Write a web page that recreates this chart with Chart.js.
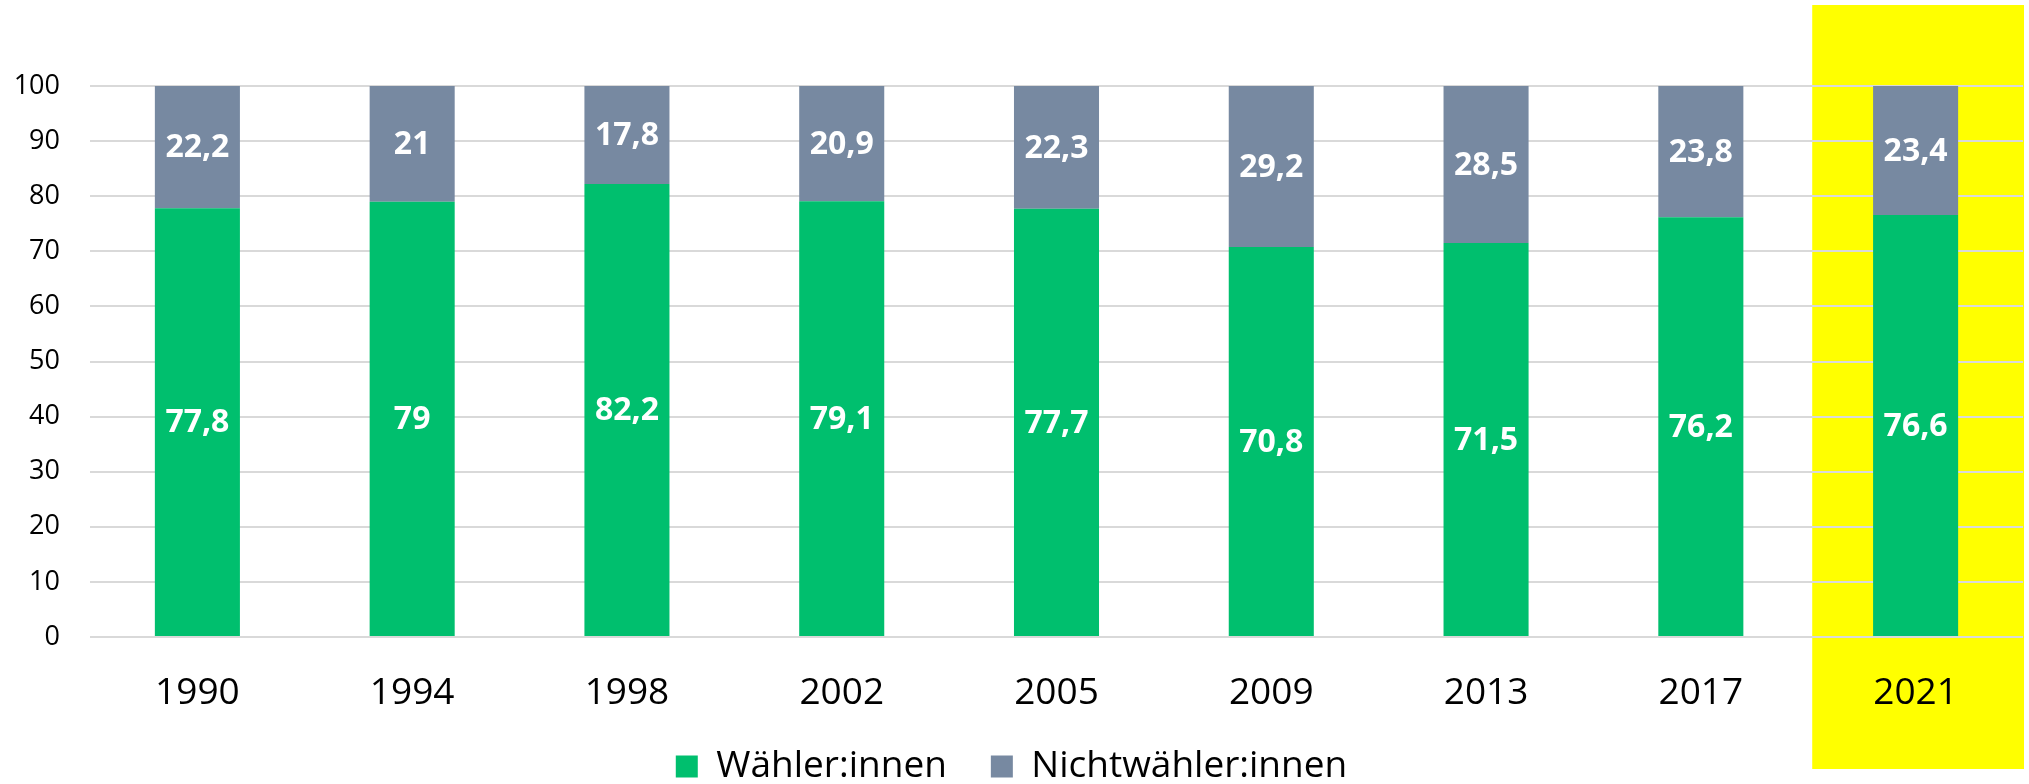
<!DOCTYPE html>
<html>
<head>
<meta charset="utf-8">
<script src="https://cdn.jsdelivr.net/npm/chart.js@4"></script>
<style>
  html, body { margin: 0; padding: 0; background: #fff; }
  #wrap { width: 2029px; height: 784px; }
</style>
</head>
<body>
<div id="wrap"><canvas id="wahl-chart"></canvas></div>
<script>
const years = ['1990', '1994', '1998', '2002', '2005', '2009', '2013', '2017', '2021'];
const waehler = [77.8, 79, 82.2, 79.1, 77.7, 70.8, 71.5, 76.2, 76.6];
const nichtwaehler = [22.2, 21, 17.8, 20.9, 22.3, 29.2, 28.5, 23.8, 23.4];
const highlightYear = '2021';

const fontFamily = '"Open Sans", sans-serif';

// yellow box behind the highlighted year
const highlightPlugin = {
  id: 'highlight',
  beforeDraw(chart) {
    const x = chart.scales.x;
    const idx = years.indexOf(highlightYear);
    const center = x.getPixelForValue(idx);
    const half = (x.width / years.length) / 2;
    const ctx = chart.ctx;
    ctx.save();
    ctx.fillStyle = '#ffff00';
    ctx.fillRect(center - half + 4, 5, half * 2 - 3, 764);
    ctx.restore();
  }
};

// white value labels in the middle of each segment
const valueLabels = {
  id: 'valueLabels',
  afterDatasetsDraw(chart) {
    const ctx = chart.ctx;
    ctx.save();
    ctx.fillStyle = '#fff';
    ctx.font = 'bold 32px ' + fontFamily;
    ctx.textAlign = 'center';
    ctx.textBaseline = 'middle';
    chart.data.datasets.forEach((ds, i) => {
      chart.getDatasetMeta(i).data.forEach((bar, j) => {
        let txt = String(ds.data[j]).replace('.', ',');
        ctx.fillText(txt, bar.x, (bar.y + bar.base) / 2 + 1);
      });
    });
    ctx.restore();
  }
};

const data = {
  labels: years,
  datasets: [
    {
      label: 'Wähler:innen',
      data: waehler,
      backgroundColor: '#00bf6e',
      barPercentage: 0.396,
      categoryPercentage: 1
    },
    {
      label: 'Nichtwähler:innen',
      data: nichtwaehler,
      backgroundColor: '#7789a1',
      barPercentage: 0.396,
      categoryPercentage: 1
    }
  ]
};

const config = {
  type: 'bar',
  data: data,
  options: {
    responsive: true,
    maintainAspectRatio: false,
    animation: false,
    layout: {
      padding: { top: 86, left: 0, right: 6, bottom: -11 }
    },
    plugins: {
      tooltip: { enabled: false },
      legend: {
        position: 'bottom',
        labels: {
          color: '#000',
          font: { family: fontFamily, size: 37 },
          boxWidth: 22,
          boxHeight: 22,
          padding: 44
        }
      }
    },
    scales: {
      x: {
        stacked: true,
        grid: { display: false, drawTicks: false },
        border: { display: false },
        ticks: {
          color: '#000',
          font: { family: fontFamily, size: 37 },
          padding: 34
        },
        afterFit(scale) { scale.height = 67; }
      },
      y: {
        stacked: true,
        min: 0,
        max: 100,
        grid: { color: '#d9d9d9', lineWidth: 2, drawTicks: false },
        border: { display: false },
        ticks: {
          stepSize: 10,
          color: '#000',
          font: { family: fontFamily, size: 27 },
          padding: 30
        },
        afterFit(scale) { scale.width = 90; }
      }
    }
  },
  plugins: [highlightPlugin, valueLabels]
};

const wahlChart = new Chart(document.getElementById('wahl-chart'), config);
</script>
</body>
</html>
